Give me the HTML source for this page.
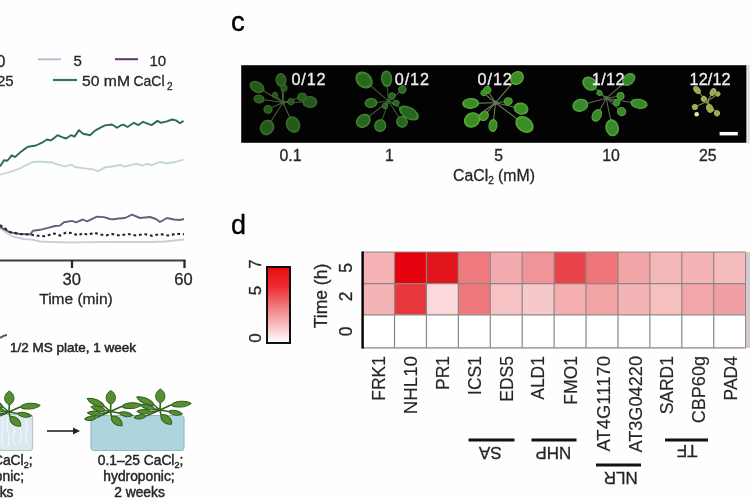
<!DOCTYPE html>
<html><head><meta charset="utf-8"><style>
html,body{margin:0;padding:0;background:#fff;}
body{width:750px;height:500px;overflow:hidden;}
svg{display:block;filter:blur(0.45px);}
</style></head><body>
<svg width="750" height="500" viewBox="0 0 750 500">
<rect width="750" height="500" fill="#fefefe"/>
<polyline points="0,174.6 10,172 20,168.3 27,164.7 33,162 40,161.6 45,162 53,162.5 55,163.7 65,166.5 71,164.6 75,167 85,168.4 93,169.3 98,171.2 105,167.4 115,166 120,164.8 125,166.6 130,165.2 137,163.8 142,165.7 147,163.8 152,165.2 160,162 167,163.4 175,162 183.5,159.6" fill="none" stroke="#c2d8c7" stroke-width="1.8" stroke-linejoin="round"/>
<polyline points="0,166.5 4,160.2 7,160.7 9,158.9 11.7,155.3 15,157 20,152.6 24,149.4 28,146.7 31,146.3 36,145.5 42,142.7 47,139.5 51,140.4 56,136.4 57.5,135.2 62,137.1 66,138.5 71,135.2 74.5,136.6 79,130.1 83,133.8 88,134.8 90,135.2 95,130.6 100,127.8 105,125.4 112,124.5 117,127.8 121,125.3 123.5,124.6 127.5,127 134,122.8 138.5,125.1 143,121.8 151.5,125.1 157.5,120.9 161,122.8 167,121.4 172,119.5 176,120.4 180,123.2 183.5,120.9" fill="none" stroke="#2d6b50" stroke-width="1.9" stroke-linejoin="round"/>
<polyline points="0,228 8,234 15,237.2 24,239 32,239.6 40,241.5 50,242 70,242.4 100,242.2 130,241.8 150,242 165,241.5 184,239.5" fill="none" stroke="#d3c7da" stroke-width="1.8" stroke-linejoin="round"/>
<polyline points="0,226.8 10,232.4 20,234 30,234.4 33,230.8 40,229.8 48,227.9 55,226 60,225.6 64,222.3 72,220.9 76,222.3 83,219.5 87,221.4 97,216.7 104,217.1 110,219 113,219.3 119,218.5 125,218 132,214.7 140,218 150,217 156,219 160,222 167,218 174,219.5 180,220 184,219" fill="none" stroke="#6e5a7c" stroke-width="1.9" stroke-linejoin="round"/>
<polyline points="0,225 10,232 20,234 30,234.5 37,235.6 44,236.2 49,234.9 54,233.5 60,235.5 66,232.6 72,233.1 78,235.5 83,233.1 88,234.9 94,232.6 100,234.4 106,235.5 112,234 120,235.5 128,234 136,235.5 144,234 152,235.8 160,234 168,235.5 176,233.8 184,234.2" fill="none" stroke="#262626" stroke-width="2.1" stroke-dasharray="2.8 2.8"/>
<line x1="0" y1="260.5" x2="185.5" y2="260.5" stroke="#3a3a3a" stroke-width="2"/>
<line x1="72" y1="260" x2="72" y2="268" stroke="#2a2a2a" stroke-width="2.3"/>
<line x1="184.5" y1="260" x2="184.5" y2="268" stroke="#2a2a2a" stroke-width="2.3"/>
<g font-family='"Liberation Sans", Arial, Helvetica, sans-serif' font-size="16.5" fill="#262626" stroke="#262626" stroke-width="0.3">
<text x="71.7" y="285.4" text-anchor="middle">30</text>
<text x="183.4" y="285.4" text-anchor="middle">60</text>
<text x="76" y="304" text-anchor="middle" font-size="15.5">Time (min)</text>
</g>
<g font-family='"Liberation Sans", Arial, Helvetica, sans-serif' font-size="15" fill="#262626" stroke="#262626" stroke-width="0.3">
<text x="-3.4" y="66.6" font-size="16">0</text>
<line x1="38" y1="59.3" x2="61" y2="59.3" stroke="#c9b6d4" stroke-width="2"/>
<text x="73.5" y="66.3">5</text>
<line x1="115" y1="59.2" x2="138" y2="59.2" stroke="#5b3468" stroke-width="2"/>
<text x="149.5" y="66.3">10</text>
<text x="-3" y="86.3">25</text>
<line x1="53" y1="80" x2="77" y2="80" stroke="#2e7a55" stroke-width="2.2"/>
<text x="82" y="86.3"><tspan textLength="48" lengthAdjust="spacingAndGlyphs">50 mM</tspan><tspan x="133.5" textLength="31" lengthAdjust="spacingAndGlyphs">CaCl</tspan><tspan font-size="10" dx="2.5" dy="3.2">2</tspan></text>
</g>
<g font-family='"Liberation Sans", Arial, Helvetica, sans-serif' font-size="13.5" fill="#262626" stroke="#262626" stroke-width="0.5">
<text x="10" y="352">1/2 MS plate, 1 week</text>
</g>
<path d="M0,338 Q4,335 7,335" stroke="#555" stroke-width="2" fill="none"/>
<rect x="-6" y="414.5" width="38.5" height="36" rx="3" fill="#dbe9ef" stroke="#b9c4c9" stroke-width="1.2"/><path d="M2,418 q2,8 0,16 q-1,6 1,12 M8,418 q-2,9 1,18 q1,5 -1,10 M14,419 q2,7 0,14 q-2,7 1,12 M20,418 q-1,8 1,15 q1,6 -1,11 M26,419 q2,8 0,14 q-1,6 1,11" stroke="#f4f9fb" stroke-width="1.2" fill="none" opacity="0.9"/>
<rect x="91" y="415.5" width="93" height="35" rx="3.5" fill="#acd5de" stroke="#9ab8c0" stroke-width="1.2"/>
<line x1="47" y1="431" x2="75" y2="431" stroke="#222" stroke-width="1.6"/>
<path d="M73,427.5 L80,431 L73,434.5 Z" fill="#222"/>
<defs><filter id="sb" x="-20%" y="-20%" width="140%" height="140%"><feGaussianBlur stdDeviation="0.45"/></filter></defs>
<g transform="translate(110.5,411.5) scale(1.0)" filter="url(#sb)"><line x1="0" y1="0" x2="0.3" y2="-7" stroke="#30601b" stroke-width="1.6"/><line x1="0" y1="0" x2="11" y2="-5" stroke="#30601b" stroke-width="1.6"/><line x1="0" y1="0" x2="8.5" y2="1.5" stroke="#30601b" stroke-width="1.6"/><line x1="0" y1="0" x2="1" y2="5" stroke="#30601b" stroke-width="1.6"/><line x1="0" y1="0" x2="-6" y2="-5" stroke="#30601b" stroke-width="1.6"/><line x1="0" y1="0" x2="-5" y2="-1" stroke="#30601b" stroke-width="1.6"/><line x1="0" y1="0" x2="-9" y2="2" stroke="#30601b" stroke-width="1.6"/><line x1="0" y1="0" x2="-14" y2="6" stroke="#30601b" stroke-width="1.6"/><g fill="#578f33" stroke="#30601b" stroke-width="1"><path d="M0,0 C2.8,-6.2 10.5,-6.2 14.0,0 C10.5,6.2 2.8,6.2 0,0 Z" transform="translate(0.3,-7) rotate(-90)"/><path d="M0,0 C4.0,-3.8 15.0,-3.8 20.0,0 C15.0,3.8 4.0,3.8 0,0 Z" transform="translate(11,-5) rotate(-5)"/><path d="M0,0 C2.8,-3.0 10.5,-3.0 14.0,0 C10.5,3.0 2.8,3.0 0,0 Z" transform="translate(8.5,1.5) rotate(10)"/><path d="M0,0 C2.8,-4.8 10.5,-4.8 14.0,0 C10.5,4.8 2.8,4.8 0,0 Z" transform="translate(1,5) rotate(40)"/><path d="M0,0 C3.8,-3.8 14.2,-3.8 19.0,0 C14.2,3.8 3.8,3.8 0,0 Z" transform="translate(-6,-5) rotate(205)"/><path d="M0,0 C3.0,-3.0 11.2,-3.0 15.0,0 C11.2,3.0 3.0,3.0 0,0 Z" transform="translate(-5,-1) rotate(195)"/><path d="M0,0 C2.8,-3.0 10.5,-3.0 14.0,0 C10.5,3.0 2.8,3.0 0,0 Z" transform="translate(-9,2) rotate(183)"/><path d="M0,0 C2.4,-2.9 9.0,-2.9 12.0,0 C9.0,2.9 2.4,2.9 0,0 Z" transform="translate(-14,6) rotate(172)"/></g></g>
<g transform="translate(160,410) scale(1.0)" filter="url(#sb)"><line x1="0" y1="0" x2="0.3" y2="-7" stroke="#30601b" stroke-width="1.6"/><line x1="0" y1="0" x2="11" y2="-5" stroke="#30601b" stroke-width="1.6"/><line x1="0" y1="0" x2="8.5" y2="1.5" stroke="#30601b" stroke-width="1.6"/><line x1="0" y1="0" x2="1" y2="5" stroke="#30601b" stroke-width="1.6"/><line x1="0" y1="0" x2="-6" y2="-5" stroke="#30601b" stroke-width="1.6"/><line x1="0" y1="0" x2="-5" y2="-1" stroke="#30601b" stroke-width="1.6"/><line x1="0" y1="0" x2="-9" y2="2" stroke="#30601b" stroke-width="1.6"/><line x1="0" y1="0" x2="-14" y2="6" stroke="#30601b" stroke-width="1.6"/><g fill="#578f33" stroke="#30601b" stroke-width="1"><path d="M0,0 C2.8,-6.2 10.5,-6.2 14.0,0 C10.5,6.2 2.8,6.2 0,0 Z" transform="translate(0.3,-7) rotate(-90)"/><path d="M0,0 C4.0,-3.8 15.0,-3.8 20.0,0 C15.0,3.8 4.0,3.8 0,0 Z" transform="translate(11,-5) rotate(-5)"/><path d="M0,0 C2.8,-3.0 10.5,-3.0 14.0,0 C10.5,3.0 2.8,3.0 0,0 Z" transform="translate(8.5,1.5) rotate(10)"/><path d="M0,0 C2.8,-4.8 10.5,-4.8 14.0,0 C10.5,4.8 2.8,4.8 0,0 Z" transform="translate(1,5) rotate(40)"/><path d="M0,0 C3.8,-3.8 14.2,-3.8 19.0,0 C14.2,3.8 3.8,3.8 0,0 Z" transform="translate(-6,-5) rotate(205)"/><path d="M0,0 C3.0,-3.0 11.2,-3.0 15.0,0 C11.2,3.0 3.0,3.0 0,0 Z" transform="translate(-5,-1) rotate(195)"/><path d="M0,0 C2.8,-3.0 10.5,-3.0 14.0,0 C10.5,3.0 2.8,3.0 0,0 Z" transform="translate(-9,2) rotate(183)"/><path d="M0,0 C2.4,-2.9 9.0,-2.9 12.0,0 C9.0,2.9 2.4,2.9 0,0 Z" transform="translate(-14,6) rotate(172)"/></g></g>
<g transform="translate(9,412) scale(1.0)" filter="url(#sb)"><line x1="0" y1="0" x2="0.3" y2="-7" stroke="#30601b" stroke-width="1.6"/><line x1="0" y1="0" x2="11" y2="-5" stroke="#30601b" stroke-width="1.6"/><line x1="0" y1="0" x2="8.5" y2="1.5" stroke="#30601b" stroke-width="1.6"/><line x1="0" y1="0" x2="1" y2="5" stroke="#30601b" stroke-width="1.6"/><line x1="0" y1="0" x2="-6" y2="-5" stroke="#30601b" stroke-width="1.6"/><line x1="0" y1="0" x2="-5" y2="-1" stroke="#30601b" stroke-width="1.6"/><line x1="0" y1="0" x2="-9" y2="2" stroke="#30601b" stroke-width="1.6"/><line x1="0" y1="0" x2="-14" y2="6" stroke="#30601b" stroke-width="1.6"/><g fill="#578f33" stroke="#30601b" stroke-width="1"><path d="M0,0 C2.8,-6.2 10.5,-6.2 14.0,0 C10.5,6.2 2.8,6.2 0,0 Z" transform="translate(0.3,-7) rotate(-90)"/><path d="M0,0 C4.0,-3.8 15.0,-3.8 20.0,0 C15.0,3.8 4.0,3.8 0,0 Z" transform="translate(11,-5) rotate(-5)"/><path d="M0,0 C2.8,-3.0 10.5,-3.0 14.0,0 C10.5,3.0 2.8,3.0 0,0 Z" transform="translate(8.5,1.5) rotate(10)"/><path d="M0,0 C2.8,-4.8 10.5,-4.8 14.0,0 C10.5,4.8 2.8,4.8 0,0 Z" transform="translate(1,5) rotate(40)"/><path d="M0,0 C3.8,-3.8 14.2,-3.8 19.0,0 C14.2,3.8 3.8,3.8 0,0 Z" transform="translate(-6,-5) rotate(205)"/><path d="M0,0 C3.0,-3.0 11.2,-3.0 15.0,0 C11.2,3.0 3.0,3.0 0,0 Z" transform="translate(-5,-1) rotate(195)"/><path d="M0,0 C2.8,-3.0 10.5,-3.0 14.0,0 C10.5,3.0 2.8,3.0 0,0 Z" transform="translate(-9,2) rotate(183)"/><path d="M0,0 C2.4,-2.9 9.0,-2.9 12.0,0 C9.0,2.9 2.4,2.9 0,0 Z" transform="translate(-14,6) rotate(172)"/></g></g>
<g font-family='"Liberation Sans", Arial, Helvetica, sans-serif' font-size="13.8" fill="#262626" stroke="#262626" stroke-width="0.45" text-anchor="middle">
<text x="140.5" y="465">0.1–25 CaCl<tspan font-size="9" dy="3">2</tspan><tspan dy="-3">;</tspan></text>
<text x="139" y="481">hydroponic;</text>
<text x="139.5" y="497">2 weeks</text>
<text x="32.5" y="465" text-anchor="end">0.1 CaCl<tspan font-size="9" dy="3">2</tspan><tspan dy="-3">;</tspan></text>
<text x="24" y="481" text-anchor="end">hydroponic;</text>
<text x="13.5" y="497" text-anchor="end">2 weeks</text>
</g>
<text x="231" y="31" font-family='"Liberation Sans", Arial, Helvetica, sans-serif' font-size="27.5" fill="#000" stroke="#000" stroke-width="0.45">c</text>
<rect x="241.2" y="65.2" width="505.2" height="77.6" fill="#030303"/>
<defs><filter id="pb" x="-20%" y="-20%" width="140%" height="140%"><feGaussianBlur stdDeviation="0.7"/></filter></defs>
<defs><radialGradient id="lg1" cx="0.5" cy="0.5" r="0.55"><stop offset="0" stop-color="#25581c"/><stop offset="0.6" stop-color="#25581c"/><stop offset="1" stop-color="#437f30"/></radialGradient></defs><g filter="url(#pb)"><line x1="283" y1="102.5" x2="281" y2="80" stroke="#435f36" stroke-width="1.1"/><line x1="283" y1="102.5" x2="257" y2="87" stroke="#435f36" stroke-width="1.1"/><line x1="283" y1="102.5" x2="259" y2="99" stroke="#435f36" stroke-width="1.1"/><line x1="283" y1="102.5" x2="302" y2="97" stroke="#435f36" stroke-width="1.1"/><line x1="283" y1="102.5" x2="310" y2="102" stroke="#435f36" stroke-width="1.1"/><line x1="283" y1="102.5" x2="267" y2="127.5" stroke="#435f36" stroke-width="1.1"/><line x1="283" y1="102.5" x2="293" y2="124.5" stroke="#435f36" stroke-width="1.1"/><line x1="283" y1="102.5" x2="268" y2="109.3" stroke="#435f36" stroke-width="1.1"/><line x1="283" y1="102.5" x2="284" y2="88" stroke="#435f36" stroke-width="1.1"/><line x1="283" y1="102.5" x2="291" y2="101.7" stroke="#435f36" stroke-width="1.1"/><line x1="283" y1="102.5" x2="275" y2="95" stroke="#435f36" stroke-width="1.1"/><ellipse cx="281" cy="80" rx="7" ry="5.5" transform="rotate(-95.1 281 80)" fill="url(#lg1)"/><ellipse cx="257" cy="87" rx="8" ry="5.5" transform="rotate(-149.2 257 87)" fill="url(#lg1)"/><ellipse cx="259" cy="99" rx="5.5" ry="4.5" transform="rotate(-171.7 259 99)" fill="url(#lg1)"/><ellipse cx="302" cy="97" rx="5" ry="4.5" transform="rotate(-16.1 302 97)" fill="url(#lg1)"/><ellipse cx="310" cy="102" rx="7.5" ry="6" transform="rotate(-1.1 310 102)" fill="url(#lg1)"/><ellipse cx="267" cy="127.5" rx="8" ry="7" transform="rotate(122.6 267 127.5)" fill="url(#lg1)"/><ellipse cx="293" cy="124.5" rx="8.5" ry="7" transform="rotate(65.6 293 124.5)" fill="url(#lg1)"/><ellipse cx="268" cy="109.3" rx="4.5" ry="4.5" transform="rotate(155.6 268 109.3)" fill="url(#lg1)"/><ellipse cx="284" cy="88" rx="3.5" ry="3.5" transform="rotate(-86.1 284 88)" fill="url(#lg1)"/><ellipse cx="291" cy="101.7" rx="3.5" ry="3.5" transform="rotate(-5.7 291 101.7)" fill="url(#lg1)"/><ellipse cx="275" cy="95" rx="3" ry="3" transform="rotate(-136.8 275 95)" fill="url(#lg1)"/><circle cx="283" cy="102.5" r="2.2" fill="#435f36"/></g>
<defs><radialGradient id="lg2" cx="0.5" cy="0.5" r="0.55"><stop offset="0" stop-color="#28661c"/><stop offset="0.6" stop-color="#28661c"/><stop offset="1" stop-color="#56a040"/></radialGradient></defs><g filter="url(#pb)"><line x1="388.5" y1="101.2" x2="364" y2="80" stroke="#3d5a30" stroke-width="1.1"/><line x1="388.5" y1="101.2" x2="386.6" y2="78.7" stroke="#3d5a30" stroke-width="1.1"/><line x1="388.5" y1="101.2" x2="371" y2="103" stroke="#3d5a30" stroke-width="1.1"/><line x1="388.5" y1="101.2" x2="409" y2="113" stroke="#3d5a30" stroke-width="1.1"/><line x1="388.5" y1="101.2" x2="363.3" y2="120.8" stroke="#3d5a30" stroke-width="1.1"/><line x1="388.5" y1="101.2" x2="380.2" y2="125.6" stroke="#3d5a30" stroke-width="1.1"/><line x1="388.5" y1="101.2" x2="402" y2="121.8" stroke="#3d5a30" stroke-width="1.1"/><line x1="388.5" y1="101.2" x2="402.3" y2="89.6" stroke="#3d5a30" stroke-width="1.1"/><line x1="388.5" y1="101.2" x2="392" y2="96" stroke="#3d5a30" stroke-width="1.1"/><line x1="388.5" y1="101.2" x2="396" y2="103" stroke="#3d5a30" stroke-width="1.1"/><line x1="388.5" y1="101.2" x2="385" y2="106" stroke="#3d5a30" stroke-width="1.1"/><ellipse cx="364" cy="80" rx="9.5" ry="7.5" transform="rotate(-139.1 364 80)" fill="url(#lg2)"/><ellipse cx="386.6" cy="78.7" rx="8.3" ry="5.6" transform="rotate(-94.8 386.6 78.7)" fill="url(#lg2)"/><ellipse cx="371" cy="103" rx="6.4" ry="5" transform="rotate(174.1 371 103)" fill="url(#lg2)"/><ellipse cx="409" cy="113" rx="11" ry="6" transform="rotate(29.9 409 113)" fill="url(#lg2)"/><ellipse cx="363.3" cy="120.8" rx="8" ry="6.5" transform="rotate(142.1 363.3 120.8)" fill="url(#lg2)"/><ellipse cx="380.2" cy="125.6" rx="6.5" ry="6" transform="rotate(108.8 380.2 125.6)" fill="url(#lg2)"/><ellipse cx="402" cy="121.8" rx="6" ry="5.7" transform="rotate(56.8 402 121.8)" fill="url(#lg2)"/><ellipse cx="402.3" cy="89.6" rx="4" ry="4" transform="rotate(-40.0 402.3 89.6)" fill="url(#lg2)"/><ellipse cx="392" cy="96" rx="3.5" ry="3.5" transform="rotate(-56.1 392 96)" fill="url(#lg2)"/><ellipse cx="396" cy="103" rx="3.5" ry="3" transform="rotate(13.5 396 103)" fill="url(#lg2)"/><ellipse cx="385" cy="106" rx="3" ry="3" transform="rotate(126.1 385 106)" fill="url(#lg2)"/><circle cx="388.5" cy="101.2" r="2.2" fill="#3d5a30"/></g>
<defs><radialGradient id="lg3" cx="0.5" cy="0.5" r="0.55"><stop offset="0" stop-color="#3a8c22"/><stop offset="0.6" stop-color="#3a8c22"/><stop offset="1" stop-color="#66c048"/></radialGradient></defs><g filter="url(#pb)"><line x1="495.5" y1="102.7" x2="517" y2="78" stroke="#6a7a5a" stroke-width="1.1"/><line x1="495.5" y1="102.7" x2="470.7" y2="103.4" stroke="#6a7a5a" stroke-width="1.1"/><line x1="495.5" y1="102.7" x2="472" y2="120" stroke="#6a7a5a" stroke-width="1.1"/><line x1="495.5" y1="102.7" x2="484" y2="116" stroke="#6a7a5a" stroke-width="1.1"/><line x1="495.5" y1="102.7" x2="493" y2="125.5" stroke="#6a7a5a" stroke-width="1.1"/><line x1="495.5" y1="102.7" x2="521" y2="108.7" stroke="#6a7a5a" stroke-width="1.1"/><line x1="495.5" y1="102.7" x2="524.5" y2="124.5" stroke="#6a7a5a" stroke-width="1.1"/><line x1="495.5" y1="102.7" x2="487.2" y2="90" stroke="#6a7a5a" stroke-width="1.1"/><line x1="495.5" y1="102.7" x2="483.5" y2="93" stroke="#6a7a5a" stroke-width="1.1"/><line x1="495.5" y1="102.7" x2="508.2" y2="101.2" stroke="#6a7a5a" stroke-width="1.1"/><ellipse cx="517" cy="78" rx="7.5" ry="6.5" transform="rotate(-49.0 517 78)" fill="url(#lg3)"/><ellipse cx="470.7" cy="103.4" rx="8.5" ry="5.5" transform="rotate(178.4 470.7 103.4)" fill="url(#lg3)"/><ellipse cx="472" cy="120" rx="8.5" ry="7.5" transform="rotate(143.6 472 120)" fill="url(#lg3)"/><ellipse cx="484" cy="116" rx="5.5" ry="4.5" transform="rotate(130.8 484 116)" fill="url(#lg3)"/><ellipse cx="493" cy="125.5" rx="6.5" ry="4.5" transform="rotate(96.3 493 125.5)" fill="url(#lg3)"/><ellipse cx="521" cy="108.7" rx="7.5" ry="6" transform="rotate(13.2 521 108.7)" fill="url(#lg3)"/><ellipse cx="524.5" cy="124.5" rx="10" ry="7.5" transform="rotate(36.9 524.5 124.5)" fill="url(#lg3)"/><ellipse cx="487.2" cy="90" rx="4" ry="4" transform="rotate(-123.2 487.2 90)" fill="url(#lg3)"/><ellipse cx="483.5" cy="93" rx="3" ry="3" transform="rotate(-141.1 483.5 93)" fill="url(#lg3)"/><ellipse cx="508.2" cy="101.2" rx="4.5" ry="4" transform="rotate(-6.7 508.2 101.2)" fill="url(#lg3)"/><circle cx="495.5" cy="102.7" r="2.2" fill="#6a7a5a"/></g>
<defs><radialGradient id="lg4" cx="0.5" cy="0.5" r="0.55"><stop offset="0" stop-color="#38882a"/><stop offset="0.6" stop-color="#38882a"/><stop offset="1" stop-color="#62b848"/></radialGradient></defs><g filter="url(#pb)"><line x1="606.2" y1="98.2" x2="589.7" y2="83.6" stroke="#5a6a4c" stroke-width="1.1"/><line x1="606.2" y1="98.2" x2="628.7" y2="79.5" stroke="#5a6a4c" stroke-width="1.1"/><line x1="606.2" y1="98.2" x2="580.3" y2="105.3" stroke="#5a6a4c" stroke-width="1.1"/><line x1="606.2" y1="98.2" x2="639" y2="103.8" stroke="#5a6a4c" stroke-width="1.1"/><line x1="606.2" y1="98.2" x2="596.8" y2="115.4" stroke="#5a6a4c" stroke-width="1.1"/><line x1="606.2" y1="98.2" x2="612.2" y2="127.8" stroke="#5a6a4c" stroke-width="1.1"/><line x1="606.2" y1="98.2" x2="621.6" y2="111.7" stroke="#5a6a4c" stroke-width="1.1"/><line x1="606.2" y1="98.2" x2="620.5" y2="96" stroke="#5a6a4c" stroke-width="1.1"/><line x1="606.2" y1="98.2" x2="599.5" y2="93" stroke="#5a6a4c" stroke-width="1.1"/><line x1="606.2" y1="98.2" x2="616.7" y2="102.7" stroke="#5a6a4c" stroke-width="1.1"/><ellipse cx="589.7" cy="83.6" rx="8" ry="6.5" transform="rotate(-138.5 589.7 83.6)" fill="url(#lg4)"/><ellipse cx="628.7" cy="79.5" rx="7.5" ry="5.5" transform="rotate(-39.7 628.7 79.5)" fill="url(#lg4)"/><ellipse cx="580.3" cy="105.3" rx="8" ry="6.5" transform="rotate(164.7 580.3 105.3)" fill="url(#lg4)"/><ellipse cx="639" cy="103.8" rx="8.7" ry="5" transform="rotate(9.7 639 103.8)" fill="url(#lg4)"/><ellipse cx="596.8" cy="115.4" rx="6.8" ry="4.8" transform="rotate(118.7 596.8 115.4)" fill="url(#lg4)"/><ellipse cx="612.2" cy="127.8" rx="8.6" ry="6.8" transform="rotate(78.5 612.2 127.8)" fill="url(#lg4)"/><ellipse cx="621.6" cy="111.7" rx="4.8" ry="4.5" transform="rotate(41.2 621.6 111.7)" fill="url(#lg4)"/><ellipse cx="620.5" cy="96" rx="4" ry="4" transform="rotate(-8.7 620.5 96)" fill="url(#lg4)"/><ellipse cx="599.5" cy="93" rx="3" ry="3" transform="rotate(-142.2 599.5 93)" fill="url(#lg4)"/><ellipse cx="616.7" cy="102.7" rx="3.5" ry="3.5" transform="rotate(23.2 616.7 102.7)" fill="url(#lg4)"/><circle cx="606.2" cy="98.2" r="2.2" fill="#5a6a4c"/></g>
<defs><radialGradient id="lg5" cx="0.5" cy="0.5" r="0.55"><stop offset="0" stop-color="#9aab52"/><stop offset="0.6" stop-color="#9aab52"/><stop offset="1" stop-color="#b0c068"/></radialGradient></defs><g filter="url(#pb)"><line x1="707" y1="101.6" x2="697" y2="90" stroke="#7a8a45" stroke-width="1.1"/><line x1="707" y1="101.6" x2="713" y2="92" stroke="#7a8a45" stroke-width="1.1"/><line x1="707" y1="101.6" x2="717.9" y2="94" stroke="#7a8a45" stroke-width="1.1"/><line x1="707" y1="101.6" x2="703.9" y2="98.9" stroke="#7a8a45" stroke-width="1.1"/><line x1="707" y1="101.6" x2="694.9" y2="107" stroke="#7a8a45" stroke-width="1.1"/><line x1="707" y1="101.6" x2="709.8" y2="108.4" stroke="#7a8a45" stroke-width="1.1"/><line x1="707" y1="101.6" x2="717" y2="113.3" stroke="#7a8a45" stroke-width="1.1"/><ellipse cx="697" cy="90" rx="4.5" ry="3" transform="rotate(-130.8 697 90)" fill="url(#lg5)"/><ellipse cx="713" cy="92" rx="4" ry="3" transform="rotate(-58.0 713 92)" fill="url(#lg5)"/><ellipse cx="717.9" cy="94" rx="2.5" ry="2.5" transform="rotate(-34.9 717.9 94)" fill="url(#lg5)"/><ellipse cx="703.9" cy="98.9" rx="3" ry="3" transform="rotate(-138.9 703.9 98.9)" fill="url(#lg5)"/><ellipse cx="694.9" cy="107" rx="3" ry="3" transform="rotate(155.9 694.9 107)" fill="url(#lg5)"/><ellipse cx="709.8" cy="108.4" rx="4.5" ry="3.5" transform="rotate(67.6 709.8 108.4)" fill="url(#lg5)"/><ellipse cx="717" cy="113.3" rx="3" ry="3" transform="rotate(49.5 717 113.3)" fill="url(#lg5)"/><circle cx="707" cy="101.6" r="2.2" fill="#7a8a45"/><circle cx="696.7" cy="114.2" r="2.3" fill="#e0e8b0"/></g>
<rect x="719.6" y="131.9" width="18.2" height="3.5" fill="#fff"/>
<g font-family='"Liberation Sans", Arial, Helvetica, sans-serif' font-size="16.2" fill="#f0f0f0" stroke="#f0f0f0" stroke-width="0.3">
<text x="291.5" y="84.7" textLength="34" lengthAdjust="spacing">0/12</text>
<text x="394.8" y="84.7" textLength="34.2" lengthAdjust="spacing">0/12</text>
<text x="477.6" y="84.7" textLength="34.2" lengthAdjust="spacing">0/12</text>
<text x="591.8" y="84.7" textLength="32.6" lengthAdjust="spacing">1/12</text>
<text x="689.6" y="84.7" textLength="41" lengthAdjust="spacing">12/12</text>
</g>
<g font-family='"Liberation Sans", Arial, Helvetica, sans-serif' font-size="15.8" fill="#262626" stroke="#262626" stroke-width="0.3" text-anchor="middle">
<text x="290.5" y="161">0.1</text>
<text x="389.3" y="161">1</text>
<text x="498.7" y="161">5</text>
<text x="611" y="161">10</text>
<text x="707.7" y="161">25</text>
<text x="494" y="181">CaCl<tspan font-size="10" dy="3">2</tspan><tspan dy="-3"> (mM)</tspan></text>
</g>
<rect x="747.4" y="65.2" width="2.2" height="78.4" fill="#dadada"/><rect x="746.4" y="252" width="3.6" height="96" fill="#d2cacd"/>
<text x="231" y="234" font-family='"Liberation Sans", Arial, Helvetica, sans-serif' font-size="27" fill="#000" stroke="#000" stroke-width="0.3">d</text>
<defs><linearGradient id="cb" x1="0" y1="0" x2="0" y2="1"><stop offset="0" stop-color="#e80c10"/><stop offset="0.25" stop-color="#ec2a2e"/><stop offset="0.5" stop-color="#f07478"/><stop offset="0.75" stop-color="#f7b9bb"/><stop offset="1" stop-color="#ffffff"/></linearGradient></defs>
<rect x="267" y="267" width="23" height="76" fill="url(#cb)" stroke="#111" stroke-width="2"/>
<g font-family='"Liberation Sans", Arial, Helvetica, sans-serif' font-size="17" fill="#262626" stroke="#262626" stroke-width="0.3" text-anchor="middle">
<text transform="translate(260.5,264) rotate(-90)" x="0" y="0">7</text>
<text transform="translate(260.5,290.5) rotate(-90)" x="0" y="0">5</text>
<text transform="translate(260.5,338) rotate(-90)" x="0" y="0">0</text>
</g>
<g font-family='"Liberation Sans", Arial, Helvetica, sans-serif' font-size="17.5" fill="#262626" stroke="#262626" stroke-width="0.3" text-anchor="middle">
<text transform="translate(326.5,296) rotate(-90)">Time (h)</text>
<text transform="translate(352,268) rotate(-90)">5</text>
<text transform="translate(352,296.5) rotate(-90)">2</text>
<text transform="translate(352,331.5) rotate(-90)">0</text>
</g>
<rect x="362.60" y="252" width="31.92" height="31.6" fill="#f4b2b4"/>
<rect x="362.60" y="283.6" width="31.92" height="31.2" fill="#f4b4b6"/>
<rect x="362.60" y="314.8" width="31.92" height="33.1" fill="#ffffff"/>
<rect x="394.52" y="252" width="31.92" height="31.6" fill="#e4000c"/>
<rect x="394.52" y="283.6" width="31.92" height="31.2" fill="#e6383c"/>
<rect x="394.52" y="314.8" width="31.92" height="33.1" fill="#ffffff"/>
<rect x="426.44" y="252" width="31.92" height="31.6" fill="#e2141c"/>
<rect x="426.44" y="283.6" width="31.92" height="31.2" fill="#fbd9db"/>
<rect x="426.44" y="314.8" width="31.92" height="33.1" fill="#ffffff"/>
<rect x="458.36" y="252" width="31.92" height="31.6" fill="#ee7a7e"/>
<rect x="458.36" y="283.6" width="31.92" height="31.2" fill="#ee787c"/>
<rect x="458.36" y="314.8" width="31.92" height="33.1" fill="#ffffff"/>
<rect x="490.28" y="252" width="31.92" height="31.6" fill="#f2aaae"/>
<rect x="490.28" y="283.6" width="31.92" height="31.2" fill="#f6c2c4"/>
<rect x="490.28" y="314.8" width="31.92" height="33.1" fill="#ffffff"/>
<rect x="522.20" y="252" width="31.92" height="31.6" fill="#f09498"/>
<rect x="522.20" y="283.6" width="31.92" height="31.2" fill="#f7c8ca"/>
<rect x="522.20" y="314.8" width="31.92" height="33.1" fill="#ffffff"/>
<rect x="554.12" y="252" width="31.92" height="31.6" fill="#e8444a"/>
<rect x="554.12" y="283.6" width="31.92" height="31.2" fill="#f4aeb0"/>
<rect x="554.12" y="314.8" width="31.92" height="33.1" fill="#ffffff"/>
<rect x="586.04" y="252" width="31.92" height="31.6" fill="#ee7478"/>
<rect x="586.04" y="283.6" width="31.92" height="31.2" fill="#f2a4a4"/>
<rect x="586.04" y="314.8" width="31.92" height="33.1" fill="#ffffff"/>
<rect x="617.96" y="252" width="31.92" height="31.6" fill="#f2a4a6"/>
<rect x="617.96" y="283.6" width="31.92" height="31.2" fill="#f4b4b6"/>
<rect x="617.96" y="314.8" width="31.92" height="33.1" fill="#ffffff"/>
<rect x="649.88" y="252" width="31.92" height="31.6" fill="#f5b8b8"/>
<rect x="649.88" y="283.6" width="31.92" height="31.2" fill="#f6c0c0"/>
<rect x="649.88" y="314.8" width="31.92" height="33.1" fill="#ffffff"/>
<rect x="681.80" y="252" width="31.92" height="31.6" fill="#f4b4b6"/>
<rect x="681.80" y="283.6" width="31.92" height="31.2" fill="#f2a6aa"/>
<rect x="681.80" y="314.8" width="31.92" height="33.1" fill="#ffffff"/>
<rect x="713.72" y="252" width="31.92" height="31.6" fill="#f4bcbc"/>
<rect x="713.72" y="283.6" width="31.92" height="31.2" fill="#f0a0a4"/>
<rect x="713.72" y="314.8" width="31.92" height="33.1" fill="#ffffff"/>
<line x1="394.52" y1="252" x2="394.52" y2="347.9" stroke="#8e8686" stroke-width="1.2"/>
<line x1="426.44" y1="252" x2="426.44" y2="347.9" stroke="#8e8686" stroke-width="1.2"/>
<line x1="458.36" y1="252" x2="458.36" y2="347.9" stroke="#8e8686" stroke-width="1.2"/>
<line x1="490.28" y1="252" x2="490.28" y2="347.9" stroke="#8e8686" stroke-width="1.2"/>
<line x1="522.20" y1="252" x2="522.20" y2="347.9" stroke="#8e8686" stroke-width="1.2"/>
<line x1="554.12" y1="252" x2="554.12" y2="347.9" stroke="#8e8686" stroke-width="1.2"/>
<line x1="586.04" y1="252" x2="586.04" y2="347.9" stroke="#8e8686" stroke-width="1.2"/>
<line x1="617.96" y1="252" x2="617.96" y2="347.9" stroke="#8e8686" stroke-width="1.2"/>
<line x1="649.88" y1="252" x2="649.88" y2="347.9" stroke="#8e8686" stroke-width="1.2"/>
<line x1="681.80" y1="252" x2="681.80" y2="347.9" stroke="#8e8686" stroke-width="1.2"/>
<line x1="713.72" y1="252" x2="713.72" y2="347.9" stroke="#8e8686" stroke-width="1.2"/>
<line x1="745.64" y1="252" x2="745.64" y2="347.9" stroke="#8e8686" stroke-width="1.2"/>
<line x1="362.6" y1="252" x2="745.64" y2="252" stroke="#8e8686" stroke-width="1.2"/>
<line x1="362.6" y1="283.6" x2="745.64" y2="283.6" stroke="#8e8686" stroke-width="1.2"/>
<line x1="362.6" y1="314.8" x2="745.64" y2="314.8" stroke="#8e8686" stroke-width="1.2"/>
<line x1="362.6" y1="347.9" x2="745.64" y2="347.9" stroke="#8e8686" stroke-width="1.2"/>
<line x1="362.6" y1="251.4" x2="362.6" y2="348.6" stroke="#000" stroke-width="2.4"/>
<g font-family='"Liberation Sans", Arial, Helvetica, sans-serif' font-size="17.5" fill="#262626" stroke="#262626" stroke-width="0.15" text-anchor="end">
<text transform="translate(384.5,356) rotate(-90)">FRK1</text>
<text transform="translate(416.5,356) rotate(-90)" textLength="58.2" lengthAdjust="spacingAndGlyphs">NHL10</text>
<text transform="translate(449.1,356) rotate(-90)">PR1</text>
<text transform="translate(481.3,356) rotate(-90)">ICS1</text>
<text transform="translate(513.3,356) rotate(-90)">EDS5</text>
<text transform="translate(544.3,356) rotate(-90)">ALD1</text>
<text transform="translate(577.1,356) rotate(-90)">FMO1</text>
<text transform="translate(609.9,356) rotate(-90)" textLength="95.6" lengthAdjust="spacingAndGlyphs">AT4G11170</text>
<text transform="translate(641.9,356) rotate(-90)" textLength="96.6" lengthAdjust="spacingAndGlyphs">AT3G04220</text>
<text transform="translate(672.9,356) rotate(-90)">SARD1</text>
<text transform="translate(704.5,356) rotate(-90)" textLength="67.3" lengthAdjust="spacingAndGlyphs">CBP60g</text>
<text transform="translate(736.7,356) rotate(-90)">PAD4</text>
</g>
<line x1="468.5" y1="440" x2="514.5" y2="440" stroke="#111" stroke-width="2.8"/>
<line x1="531.5" y1="440" x2="576.5" y2="440" stroke="#111" stroke-width="2.8"/>
<line x1="596" y1="465" x2="641" y2="465" stroke="#111" stroke-width="2.8"/>
<line x1="665" y1="440" x2="708" y2="440" stroke="#111" stroke-width="2.8"/>
<g font-family='"Liberation Sans", Arial, Helvetica, sans-serif' font-size="17" fill="#262626" stroke="#262626" stroke-width="0.3" text-anchor="middle">
<text transform="translate(490.3,447) rotate(180)">SA</text>
<text transform="translate(553.3,447) rotate(180)">NHP</text>
<text transform="translate(620.8,472) rotate(180)">NLR</text>
<text transform="translate(687.2,445) rotate(180)">TF</text>
</g>
</svg>
</body></html>
